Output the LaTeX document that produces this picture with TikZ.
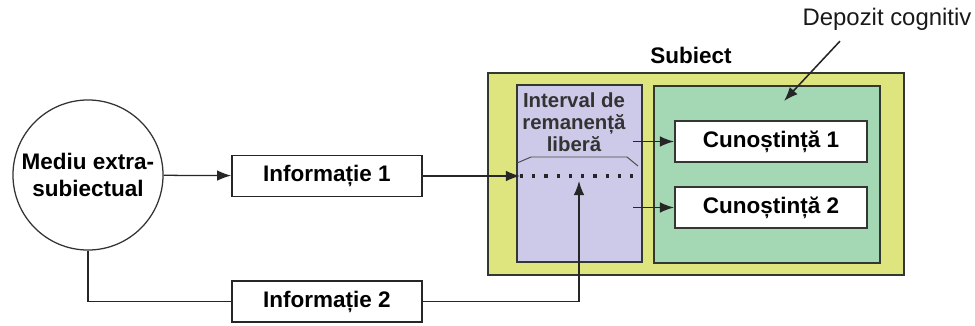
\documentclass[tikz,border=0pt]{standalone}
\usepackage{fontspec}
\setmainfont{Liberation Sans}
\usepackage{xcolor}
\usetikzlibrary{arrows.meta}

\definecolor{subjyellow}{RGB}{222,228,126}
\definecolor{intlilac}{RGB}{204,202,232}
\definecolor{depgreen}{RGB}{164,216,180}
\definecolor{edgegray}{RGB}{50,55,50}

\begin{document}
\begin{tikzpicture}[x=0.025cm, y=-0.025cm, >={Latex[length=10pt,width=7.5pt]},
		font=\fontsize{16}{19}\selectfont\bfseries,
		infobox/.style={draw=black!85, line width=1.1pt, fill=white,
			minimum width=4.75cm, minimum height=1.025cm, inner sep=0pt},
		knowbox/.style={draw=edgegray, line width=1.4pt, fill=white,
			minimum width=4.8cm, minimum height=1.025cm, inner sep=0pt},
		area/.style={draw=edgegray, line width=1pt, inner sep=0pt},
		flow/.style={line width=0.9pt, black!85}]
	\useasboundingbox (0,0) rectangle (975,325);
	% subiect si zonele lui
	\node[area, line width=1.4pt, fill=subjyellow, minimum width=10.4cm,
		minimum height=5.05cm] (subiect) at (696,174) {};
	\node[area, fill=intlilac, minimum width=3.125cm, minimum height=4.425cm]
		(interval) at (579.5,173.5) {};
	\node[area, fill=depgreen, minimum width=5.65cm, minimum height=4.425cm]
		(depozit) at (767,174.5) {};
	\node[font=\fontsize{14.5}{15.8}\selectfont\bfseries, text=black!80, align=center]
		(intlabel) at (574,122) {Interval de\\remanență\\liberă};
	\draw[black!70, line width=0.7pt] (517,163) -- (531,157) -- (627,157) -- (638,166);
	\node[anchor=center] (sublabel) at (691,55) {Subiect};
	\node[font=\fontsize{17}{20}\selectfont, text=black!90] (deplabel) at (887,19)
		{Depozit cognitiv};
	% noduri
	\node[draw=black!80, line width=0.9pt, circle, minimum size=3.75cm, inner sep=0pt,
		align=center, font=\fontsize{16}{19.5}\selectfont\bfseries]
		(mediu) at (88,175) {Mediu extra-\\subiectual};
	\node[infobox] (info1) at (327,176) {Informație 1};
	\node[infobox] (info2) at (327,301.5) {Informație 2};
	\node[knowbox] (cun1) at (771,141.5) {Cunoștință 1};
	\node[knowbox] (cun2) at (771,207.5) {Cunoștință 2};
	% linia punctata
	\coordinate (dotl) at (520,176);
	\coordinate (dotr) at (637,176);
	\coordinate (dotin) at (579,181);
	\coordinate (src1) at (633,141.5);
	\coordinate (src2) at (633,207.5);
	\coordinate (depin) at (784,101);
	\draw[black!85, line width=2.3pt, dash pattern=on 2.3pt off 6.4pt] (dotl) -- (dotr);
	% conexiuni
	\draw[flow, ->] (mediu) -- (info1);
	\draw[flow, ->] (info1.east) -- (dotl);
	\draw[flow] (mediu.south) |- (info2.west);
	\draw[flow, ->] (info2.east) -| (dotin);
	\draw[flow, ->] (src1) -- (cun1.west);
	\draw[flow, ->] (src2) -- (cun2.west);
	\draw[flow, line width=1.1pt, ->] (deplabel.south) ++(-47,6) -- (depin);
\end{tikzpicture}
\end{document}
